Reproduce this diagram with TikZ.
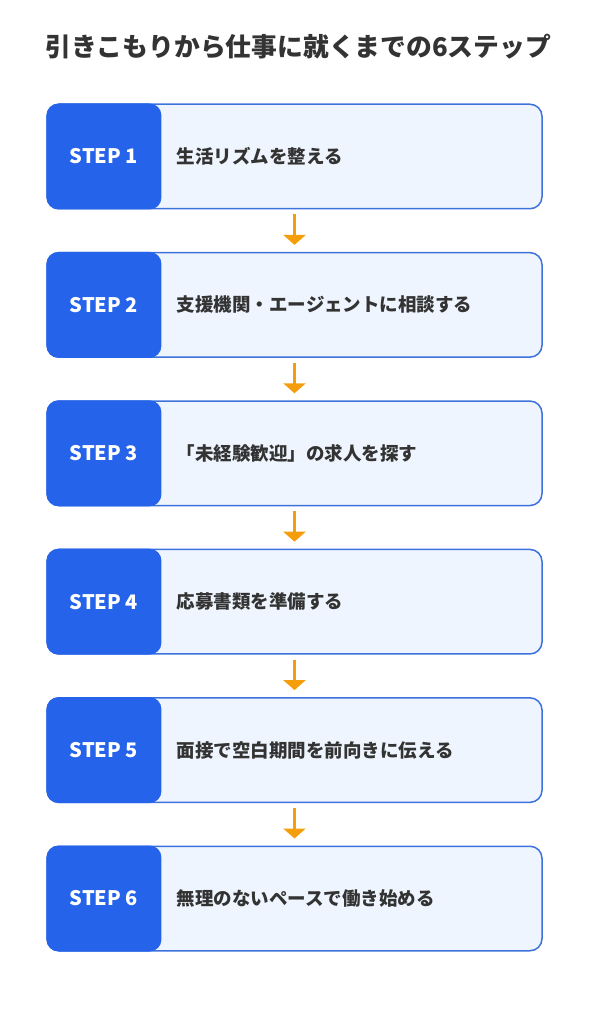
\documentclass[tikz,border=0pt]{standalone}
\usepackage{fontspec}
\setmainfont{Noto Sans CJK JP}
\usetikzlibrary{positioning,arrows.meta}
\definecolor{stepblue}{HTML}{2563EB}
\definecolor{boxfill}{HTML}{EFF5FE}
\definecolor{boxline}{HTML}{3D72DC}
\definecolor{arroworange}{HTML}{F59E0B}
\definecolor{textdark}{HTML}{333333}
\begin{document}
\begin{tikzpicture}[
    x=1pt, y=1pt,
    node distance=42.4pt,
    stepbox/.style={rectangle, draw=boxline, line width=1.5pt, fill=boxfill, rounded corners=12pt, minimum width=495pt, minimum height=104.5pt},
    steptag/.style={rectangle, fill=stepblue, rounded corners=12pt, minimum width=115pt, minimum height=106pt, inner sep=0pt, text=white, font=\bfseries\fontsize{20}{20}\selectfont},
    steptext/.style={anchor=west, inner sep=0pt, text=textdark, font=\bfseries\fontsize{18.5}{18.5}\selectfont},
    arrow/.style={-{Triangle[width=22pt,length=10pt]}, line width=3pt, arroworange, shorten <=5pt, shorten >=7pt}
]
\useasboundingbox (0,0) rectangle (590,-1024);
\node[anchor=west, inner sep=0pt, text=textdark, font=\bfseries\fontsize{25.8}{25.8}\selectfont] (title) at (45,-47) {引きこもりから仕事に就くまでの6ステップ};

\node[stepbox] (s1) at (294.5,-156.5) {};
\node[stepbox, below=of s1] (s2) {};
\node[stepbox, below=of s2] (s3) {};
\node[stepbox, below=of s3] (s4) {};
\node[stepbox, below=of s4] (s5) {};
\node[stepbox, below=of s5] (s6) {};

\node[steptag, anchor=west] (t1) at (s1.west) {STEP 1};
\node[steptag, anchor=west] (t2) at (s2.west) {STEP 2};
\node[steptag, anchor=west] (t3) at (s3.west) {STEP 3};
\node[steptag, anchor=west] (t4) at (s4.west) {STEP 4};
\node[steptag, anchor=west] (t5) at (s5.west) {STEP 5};
\node[steptag, anchor=west] (t6) at (s6.west) {STEP 6};

\node[steptext, right=15pt of t1.east] (l1) {生活リズムを整える};
\node[steptext, right=15pt of t2.east] (l2) {支援機関・エージェントに相談する};
\node[steptext, right=15pt of t3.east] (l3) {「未経験歓迎」の求人を探す};
\node[steptext, right=15pt of t4.east] (l4) {応募書類を準備する};
\node[steptext, right=15pt of t5.east] (l5) {面接で空白期間を前向きに伝える};
\node[steptext, right=15pt of t6.east] (l6) {無理のないペースで働き始める};

\draw[arrow] (s1) -- (s2);
\draw[arrow] (s2) -- (s3);
\draw[arrow] (s3) -- (s4);
\draw[arrow] (s4) -- (s5);
\draw[arrow] (s5) -- (s6);
\end{tikzpicture}
\end{document}
